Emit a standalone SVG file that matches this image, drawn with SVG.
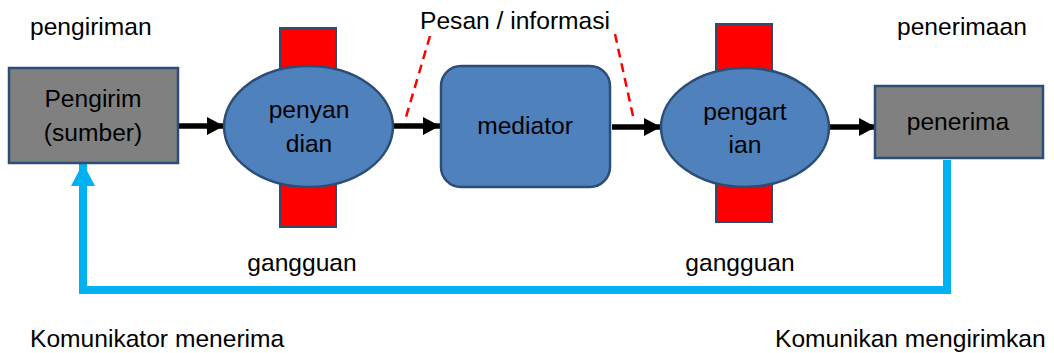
<svg xmlns="http://www.w3.org/2000/svg" width="1054" height="353" viewBox="0 0 1054 353">
  <style>
    text { font-family: "Liberation Sans", Arial, sans-serif; font-size: 24.6px; fill: #000; }
    .mid { text-anchor: middle; }
    .noise { fill: #ff0000; stroke: #2f4b70; stroke-width: 2; }
    .blue { fill: #4f81bd; stroke: #2c4d75; stroke-width: 2.5; }
    .grey { fill: #808080; stroke: #2c4d75; stroke-width: 2.5; }
    .flow { stroke: #000; stroke-width: 5.5; fill: none; }
    .dash { stroke: #ff0000; stroke-width: 2.5; stroke-dasharray: 9 6; fill: none; }
    .back { stroke: #00b0f0; stroke-width: 8; fill: none; }
  </style>
  <defs>
    <marker id="arrow" markerUnits="userSpaceOnUse" markerWidth="18" markerHeight="20" refX="17" refY="9" orient="auto">
      <polygon points="0,0 17,9 0,18" fill="#000"/>
    </marker>
    <marker id="arrowCyan" markerUnits="userSpaceOnUse" markerWidth="26" markerHeight="26" refX="23" refY="12" orient="auto">
      <polygon points="0,0 23,12 0,24" fill="#00b0f0"/>
    </marker>
  </defs>

  <!-- stage labels -->
  <text x="30" y="35">pengiriman</text>
  <text x="897" y="35">penerimaan</text>
  <text x="420" y="29">Pesan / informasi</text>

  <!-- noise bars behind the encoder / decoder -->
  <g id="noise-encode">
    <rect class="noise" x="280" y="28" width="56" height="199"/>
  </g>
  <g id="noise-decode">
    <rect class="noise" x="716" y="24" width="56" height="198"/>
  </g>

  <!-- connectors -->
  <g id="connectors">
    <line class="flow" x1="178" y1="126" x2="224" y2="126" marker-end="url(#arrow)"/>
    <line class="flow" x1="393" y1="126" x2="440" y2="126" marker-end="url(#arrow)"/>
    <line class="flow" x1="612" y1="127" x2="661" y2="127" marker-end="url(#arrow)"/>
    <line class="flow" x1="829" y1="127" x2="876" y2="127" marker-end="url(#arrow)"/>
    <line class="dash" x1="430" y1="36" x2="406" y2="117"/>
    <line class="dash" x1="615" y1="34" x2="633" y2="116"/>
    <polyline class="back" points="947,160 947,290 83,290 83,163" marker-end="url(#arrowCyan)"/>
  </g>

  <!-- nodes -->
  <g id="sender">
    <rect class="grey" x="9" y="68" width="169" height="95"/>
    <text class="mid" x="93" y="107">Pengirim</text>
    <text class="mid" x="93" y="141">(sumber)</text>
  </g>
  <g id="encoder">
    <ellipse class="blue" cx="308.5" cy="126.5" rx="84.5" ry="60.5"/>
    <text class="mid" x="309" y="118">penyan</text>
    <text class="mid" x="309" y="152">dian</text>
  </g>
  <g id="mediator">
    <rect class="blue" x="441" y="66" width="169" height="121" rx="20" ry="20"/>
    <text class="mid" x="525" y="134">mediator</text>
  </g>
  <g id="decoder">
    <ellipse class="blue" cx="745" cy="127.5" rx="84" ry="59.5"/>
    <text class="mid" x="745" y="120">pengart</text>
    <text class="mid" x="745" y="153">ian</text>
  </g>
  <g id="receiver">
    <rect class="grey" x="875" y="86" width="168" height="72"/>
    <text class="mid" x="958" y="130">penerima</text>
  </g>

  <!-- noise and feedback labels -->
  <text class="mid" x="302" y="271">gangguan</text>
  <text class="mid" x="740" y="271">gangguan</text>
  <text x="30" y="347">Komunikator menerima</text>
  <text x="775" y="347">Komunikan mengirimkan</text>
</svg>
